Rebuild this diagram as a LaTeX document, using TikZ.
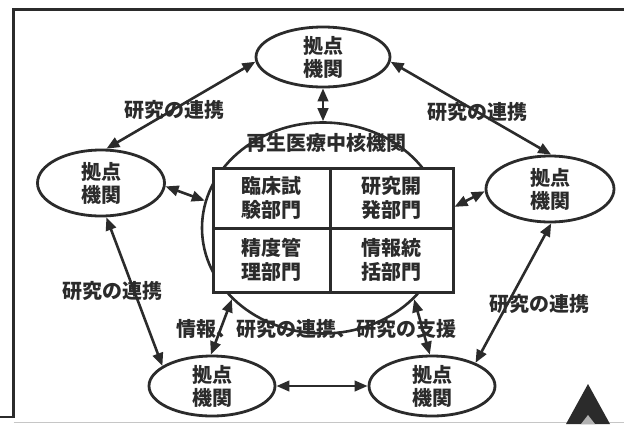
\documentclass[tikz,border=0pt]{standalone}
\usepackage{fontspec}
\newfontfamily\jp{Noto Sans CJK JP}
\usetikzlibrary{shapes.geometric,arrows.meta}
\definecolor{ink}{rgb}{0.17,0.17,0.17}
\begin{document}
\begin{tikzpicture}[x=1pt,y=-1pt,
  place/.style={ellipse, draw=ink, line width=2.8pt, inner sep=0pt, fill=white},
  lbl/.style={font=\jp\bfseries\fontsize{20}{23}\selectfont, text=ink, align=center, inner sep=0pt},
  cell/.style={rectangle, draw=ink, line width=3pt, inner sep=0pt, fill=white, align=center,
    font=\jp\bfseries\fontsize{20}{24}\selectfont, text=ink},
  arr/.style={{Triangle[length=13pt,width=10.5pt]}-{Triangle[length=13pt,width=10.5pt]}, line width=2.6pt, draw=ink}]
\useasboundingbox (0,0) rectangle (624,424);
% frame of the scanned page
\draw[ink, line width=3.5pt] (13.5,418) -- (13.5,9.5) -- (624,9.5);
\draw[ink, line width=2pt] (0,417) -- (13.5,417);
\draw[gray!45, line width=1.2pt] (13.5,422.5) -- (624,422.5);
\fill[ink] (588,384) -- (610,424) -- (566,424) -- cycle;
\fill[gray!60] (581,424) -- (588,415) -- (595,424) -- cycle;

% central circle and box
\node[ellipse, draw=ink, line width=2.6pt, inner sep=0pt, minimum width=242pt, minimum height=211pt] (core) at (323,228) {};
\node[cell, minimum width=117pt, minimum height=60pt] (c1) at (271.5,198) {臨床試\\験部門};
\node[cell, minimum width=123pt, minimum height=60pt] (c2) at (391.5,198) {研究開\\発部門};
\node[cell, minimum width=117pt, minimum height=64pt] (c3) at (271.5,260) {精度管\\理部門};
\node[cell, minimum width=123pt, minimum height=64pt] (c4) at (391.5,260) {情報統\\括部門};
\node[lbl] (title) at (326,143) {再生医療中核機関};

% hub institutions
\node[place, minimum width=134pt, minimum height=60pt] (T) at (323,57) {};
\node[place, minimum width=127pt, minimum height=66pt] (L) at (101,183) {};
\node[place, minimum width=128pt, minimum height=66pt] (R) at (550,189) {};
\node[place, minimum width=126pt, minimum height=60pt] (BL) at (212,386) {};
\node[place, minimum width=126pt, minimum height=60pt] (BR) at (432,386) {};
\node[lbl] (Tt) at (T) {拠点\\機関};
\node[lbl] (Lt) at (L) {拠点\\機関};
\node[lbl] (Rt) at (R) {拠点\\機関};
\node[lbl] (BLt) at (BL) {拠点\\機関};
\node[lbl] (BRt) at (BR) {拠点\\機関};

% connectors
\draw[arr] (T.184) -- (L.81);
\draw[arr] (T.-4) -- (R.88);
\draw[arr] (T.south) -- (core.north);
\draw[arr] (L.-3) -- (core.167);
\draw[arr] (c2.-8) -- (R.182);
\draw[arr] (L.-81) -- (BL.158);
\draw[arr] (R.-88) -- (BR.28);
\draw[arr] (BL.92) -- (core.218);
\draw[arr] (BR.94) -- (core.-38);
\draw[arr] (BL.east) -- (BR.west);

% labels
\node[lbl] (lTL) at (174,110) {研究の連携};
\node[lbl] (lTR) at (477,112) {研究の連携};
\node[lbl] (lL) at (112,291) {研究の連携};
\node[lbl] (lR) at (539,304) {研究の連携};
\node[lbl] (lB) at (316.5,329) {情報、研究の連携、研究の支援};
\end{tikzpicture}
\end{document}
